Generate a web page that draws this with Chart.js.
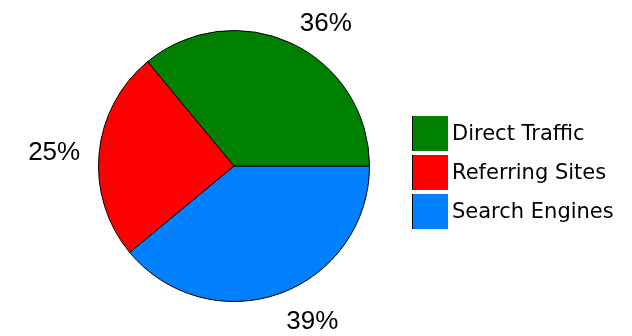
<!DOCTYPE html>
<html>
<head>
<meta charset="utf-8">
<script src="https://cdn.jsdelivr.net/npm/chart.js@4.4.1/dist/chart.umd.min.js"></script>
<style>
  html, body { margin: 0; padding: 0; background: #fff; }
  #wrap { position: relative; width: 632px; height: 336px; }
  #legend {
    position: absolute; left: 412px; top: 116px;
    font-family: "DejaVu Sans", Verdana, sans-serif; font-size: 21px; color: #000;
  }
  .item { display: flex; align-items: center; height: 35px; margin-bottom: 4px; }
  .item span { position: relative; top: -1px; }
  .swatch { width: 35px; height: 35px; border-left: 1px solid #000; margin-right: 4px; }
</style>
</head>
<body>
<div id="wrap">
  <canvas id="chart" width="632" height="336"></canvas>
  <div id="legend"></div>
</div>
<script>
const sources = ["Direct Traffic", "Referring Sites", "Search Engines"];
const shares = [36, 25, 39];
const colors = ["#008000", "#ff0000", "#0080ff"];

// slices run counter-clockwise from 3 o'clock, so feed them to Chart.js reversed
const order = [2, 1, 0];

const pctLabels = {
  id: "pctLabels",
  afterDatasetsDraw(chart) {
    const ctx = chart.ctx;
    const meta = chart.getDatasetMeta(0);
    const data = chart.data.datasets[0].data;
    ctx.save();
    ctx.font = '26px "Liberation Sans", Arial, sans-serif';
    ctx.fillStyle = "#000";
    ctx.textBaseline = "alphabetic";
    meta.data.forEach((arc, i) => {
      const p = arc.getProps(["x", "y", "startAngle", "endAngle", "outerRadius"], true);
      const mid = (p.startAngle + p.endAngle) / 2;
      const cos = Math.cos(mid);
      const sin = Math.sin(mid);
      const d = p.outerRadius + 19;
      const ax = p.x + cos * d;
      const ay = p.y + sin * d;
      const text = data[i] + "%";
      const h = ctx.measureText(text).actualBoundingBoxAscent;
      ctx.textAlign = cos >= 0 ? "left" : "right";
      let by;
      if (sin < -0.3) by = ay + 5;
      else if (sin > 0.3) by = ay + h;
      else by = ay + h / 2;
      ctx.fillText(text, ax, by);
    });
    ctx.restore();
  },
};

const chart = new Chart(document.getElementById("chart"), {
  type: "pie",
  data: {
    labels: order.map((i) => sources[i]),
    datasets: [
      {
        data: order.map((i) => shares[i]),
        backgroundColor: order.map((i) => colors[i]),
        borderColor: "#000",
        borderWidth: 1,
      },
    ],
  },
  options: {
    responsive: false,
    animation: false,
    rotation: 90,
    layout: { padding: { left: 98, right: 262, top: 30, bottom: 34 } },
    plugins: {
      legend: { display: false },
      tooltip: { enabled: false },
    },
  },
  plugins: [pctLabels],
});

const legend = document.getElementById("legend");
sources.forEach((name, i) => {
  const row = document.createElement("div");
  row.className = "item";
  row.innerHTML = `<div class="swatch" style="background:${colors[i]}"></div><span>${name}</span>`;
  legend.appendChild(row);
});
</script>
</body>
</html>
